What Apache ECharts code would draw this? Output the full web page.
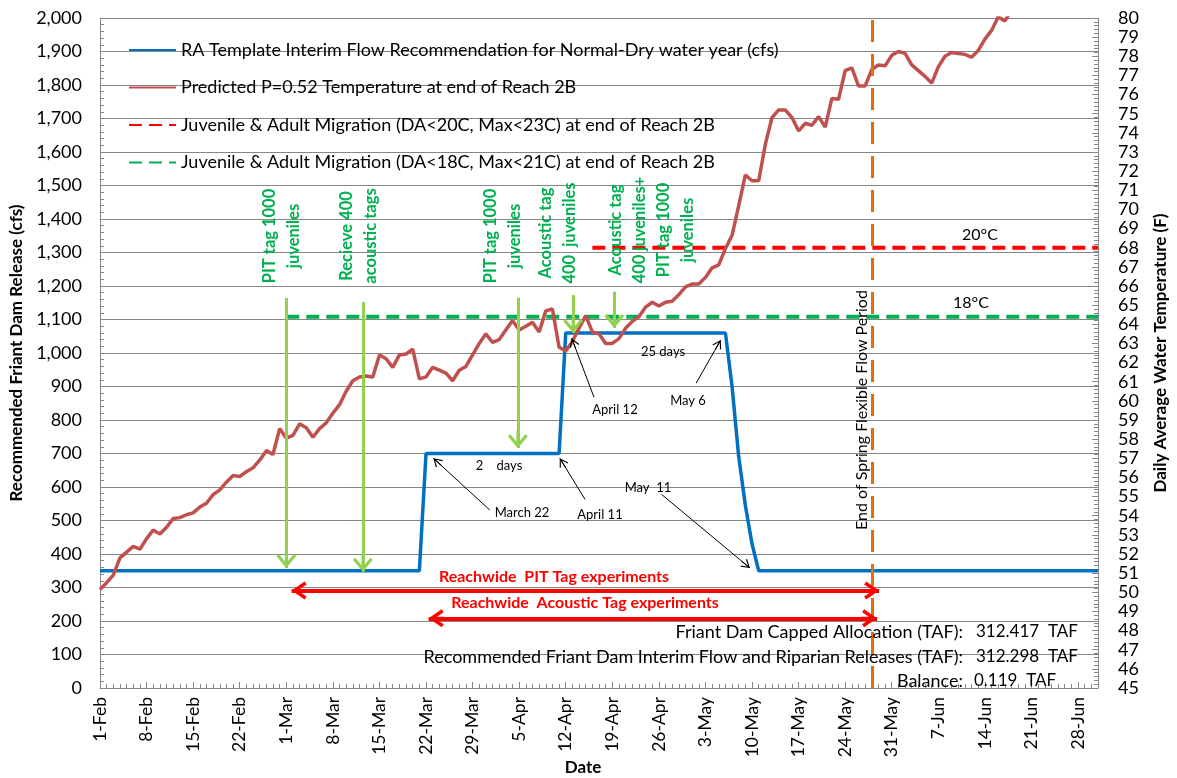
<!DOCTYPE html>
<html>
<head>
<meta charset="utf-8">
<script src="https://cdn.jsdelivr.net/npm/echarts@6/dist/echarts.min.js"></script>
<style>
  html, body { margin: 0; padding: 0; background: #fff; }
  #chart { width: 1177px; height: 778px; }
</style>
</head>
<body>
<div id="chart"></div>
<script>
// x is a day number: 0 = 1-Feb, 150 = 1-Jul
var tickLabels = ['1-Feb', '8-Feb', '15-Feb', '22-Feb', '1-Mar', '8-Mar', '15-Mar', '22-Mar', '29-Mar', '5-Apr', '12-Apr',
    '19-Apr', '26-Apr', '3-May', '10-May', '17-May', '24-May', '31-May', '7-Jun', '14-Jun', '21-Jun', '28-Jun'];

// recommended flow (cfs), break points only
var flowDays = [0, 48, 49, 69, 70, 94, 95, 96, 97, 98, 99, 150];
var flowCfs = [350, 350, 700, 700, 1060, 1060, 900, 690, 545, 430, 350, 350];

// predicted daily temperature (F), one value per day from 1-Feb
var tempF = [
    50.15, 50.5, 50.9, 51.8, 52.1, 52.4, 52.25, 52.8, 53.25, 53.05,
    53.4, 53.85, 53.9, 54.05, 54.15, 54.45, 54.65, 55.1, 55.35, 55.75,
    56.1, 56.05, 56.3, 56.5, 56.9, 57.4, 57.2, 58.55, 58.05, 58.2,
    58.8, 58.6, 58.1, 58.55, 58.85, 59.35, 59.8, 60.5, 61.05, 61.25,
    61.3, 61.25, 62.4, 62.2, 61.75, 62.4, 62.45, 62.7, 61.15, 61.25,
    61.75, 61.6, 61.45, 61.05, 61.6, 61.8, 62.4, 63.0, 63.5, 63.05,
    63.2, 63.7, 64.2, 63.7, 63.9, 64.1, 63.6, 64.7, 64.8, 62.8,
    62.6, 63.1, 63.8, 64.45, 63.6, 63.5, 63.0, 63.0, 63.25, 63.8,
    64.15, 64.4, 64.9, 65.15, 64.95, 65.15, 65.2, 65.55, 65.95, 66.1,
    66.1, 66.45, 66.95, 67.1, 67.95, 68.65, 70.2, 71.8, 71.5, 71.5,
    73.4, 74.8, 75.2, 75.2, 74.8, 74.1, 74.5, 74.4, 74.85, 74.3,
    75.8, 75.75, 77.25, 77.4, 76.45, 76.45, 77.3, 77.55, 77.5, 78.05,
    78.25, 78.15, 77.55, 77.25, 76.95, 76.6, 77.45, 78.0, 78.2, 78.15,
    78.1, 77.95, 78.3, 78.9, 79.35, 80.05, 79.85, 80.4
];

// migration thresholds (F)
var redLimitDays = [74, 150];
var redLimitF = 68;
var greenLimitDays = [28, 150];
var greenLimitF = 64.4;
var endOfFlexDay = 116;

// green tagging arrows (day, top cfs, tip cfs)
var tagArrowDays = [28, 39.5, 62.8, 71.1, 77.3];
var tagArrowTop = [1164, 1152, 1165, 1173, 1183];
var tagArrowTip = [358, 347, 716, 1060, 1075];

// black note arrows (tail day, tail cfs, tip day, tip cfs)
var noteFromDays = [58.6, 72.9, 74.25, 89.6, 84.4];
var noteFromCfs = [531, 563, 868, 910, 578];
var noteToDays = [50.1, 69.1, 70.9, 93.3, 97.7];
var noteToCfs = [686, 686, 1044, 1039, 358];

// reachwide experiment spans
var expStartDays = [28.8, 49.4];
var expEndDays = [117.1, 116.8];
var expCfs = [291, 208];

var FONT = 'Lato';
var chart = echarts.init(document.getElementById('chart'));

var greenHead = 'path://M10,0 L20,12 L17.5,14 L10,5 L2.5,14 L0,12 Z M8.6,3 L11.4,3 L11.4,18 L8.6,18 Z';
var blackHead = 'path://M5,0 L10,8 L9,8.7 L5,2 L1,8.7 L0,8 Z M4.5,1 L5.5,1 L5.5,11 L4.5,11 Z';
var redHead = 'path://M9,0 L18,13 L15,15 L9,6 L3,15 L0,13 Z M7.5,3 L10.5,3 L10.5,16 L7.5,16 Z';

function txt(text, x, y, opt) {
    opt = opt || {};
    return {
        type: 'text', x: x, y: y, rotation: opt.rotation || 0, z: 100,
        style: {
            text: text, fill: opt.color || '#000', align: opt.align || 'center', verticalAlign: 'middle',
            font: (opt.bold ? 'bold ' : '') + (opt.size || 16) + 'px ' + FONT,
            lineHeight: opt.lineHeight
        }
    };
}
var V = Math.PI / 2;
var greenTxt = {color: '#00B050', bold: true, size: 16.5, rotation: V, lineHeight: 24};

var names = [
    'RA Template Interim Flow Recommendation for Normal-Dry water year (cfs)',
    'Predicted P=0.52 Temperature at end of Reach 2B',
    'Juvenile & Adult Migration (DA<20C, Max<23C) at end of Reach 2B',
    'Juvenile & Adult Migration (DA<18C, Max<21C) at end of Reach 2B'
];

chart.setOption({
    animation: false,
    textStyle: {fontFamily: FONT},
    grid: {left: 100, right: 79, top: 18, bottom: 90, outerBoundsMode: 'none'},
    legend: {
        data: names, orient: 'vertical', left: 128, top: 41, itemWidth: 47, itemHeight: 14, itemGap: 19.5,
        padding: 0, itemStyle: {opacity: 0}, z: 5,
        textStyle: {fontSize: 18, color: '#000', fontFamily: FONT}
    },
    xAxis: {
        type: 'value', min: 0, max: 150, interval: 7,
        axisLine: {lineStyle: {color: '#868686'}},
        axisTick: {inside: true, length: 6, lineStyle: {color: '#868686'}},
        minorTick: {show: true, splitNumber: 7, length: 4, lineStyle: {color: '#868686'}},
        splitLine: {show: false},
        axisLabel: {
            rotate: 90, margin: 9, fontSize: 17.5, color: '#000',
            formatter: function (v) { return v % 7 === 0 && v / 7 < tickLabels.length ? tickLabels[v / 7] : ''; }
        }
    },
    yAxis: [{
        type: 'value', min: 0, max: 2000, interval: 100, position: 'left',
        name: 'Recommended Friant Dam Release (cfs)', nameLocation: 'middle', nameGap: 72,
        nameTextStyle: {fontSize: 17, fontWeight: 'bold', color: '#000'},
        axisLine: {show: true, lineStyle: {color: '#868686'}},
        axisTick: {show: true, inside: true, length: 6, lineStyle: {color: '#868686'}},
        minorTick: {show: true, splitNumber: 5, length: 4, lineStyle: {color: '#868686'}},
        splitLine: {lineStyle: {color: '#868686', width: 1}},
        axisLabel: {fontSize: 18, color: '#000', margin: 18, formatter: function (v) { return v.toLocaleString('en-US'); }}
    }, {
        type: 'value', min: 45, max: 80, interval: 1, position: 'right',
        name: 'Daily Average Water Temperature (F)', nameLocation: 'middle', nameGap: 54,
        nameTextStyle: {fontSize: 17, fontWeight: 'bold', color: '#000'},
        axisLine: {show: true, lineStyle: {color: '#868686'}},
        axisTick: {show: true, inside: true, length: 6, lineStyle: {color: '#868686'}},
        minorTick: {show: true, splitNumber: 5, length: 4, lineStyle: {color: '#868686'}},
        splitLine: {show: false},
        axisLabel: {fontSize: 18, color: '#000', margin: 20}
    }],
    series: [{
        name: names[2], type: 'line', yAxisIndex: 1, symbol: 'none', z: 3,
        lineStyle: {color: '#FF0000', width: 4, type: [13, 7]}, itemStyle: {color: '#FF0000'},
        data: redLimitDays.map(function (d) { return [d, redLimitF]; })
    }, {
        name: names[3], type: 'line', yAxisIndex: 1, symbol: 'none', z: 3,
        lineStyle: {color: '#00B050', width: 4, type: [13, 7]}, itemStyle: {color: '#00B050'},
        data: greenLimitDays.map(function (d) { return [d, greenLimitF]; })
    }, {
        name: names[0], type: 'line', yAxisIndex: 0, symbol: 'none', z: 4,
        lineStyle: {color: '#0070C0', width: 3.5}, itemStyle: {color: '#0070C0'},
        data: flowDays.map(function (d, i) { return [d, flowCfs[i]]; })
    }, {
        name: names[1], type: 'line', yAxisIndex: 1, symbol: 'none', z: 4,
        lineStyle: {color: '#C0504D', width: 3.5}, itemStyle: {color: '#C0504D'},
        data: tempF.map(function (v, i) { return [i, v]; })
    }, {
        name: 'flex', type: 'line', yAxisIndex: 0, data: [],
        markLine: {
            silent: true, animation: false, symbol: 'none', label: {show: false},
            lineStyle: {color: '#E46C0A', width: 3, type: [22, 12]},
            data: [{xAxis: endOfFlexDay}]
        }
    }, {
        name: 'tags', type: 'line', yAxisIndex: 0, data: [], z: 6,
        markLine: {
            silent: true, animation: false, symbol: ['none', greenHead], symbolSize: [20, 18],
            symbolOffset: [0, [0, 9]], label: {show: false},
            lineStyle: {color: '#92D050', width: 3, type: 'solid'},
            data: tagArrowDays.map(function (d, i) { return [{coord: [d, tagArrowTop[i]]}, {coord: [d, tagArrowTip[i]]}]; })
        }
    }, {
        name: 'notes', type: 'line', yAxisIndex: 0, data: [], z: 6,
        markLine: {
            silent: true, animation: false, symbol: ['none', blackHead], symbolSize: [10, 11],
            symbolOffset: [0, [0, 5.5]], label: {show: false},
            lineStyle: {color: '#000', width: 1, type: 'solid'},
            data: noteFromDays.map(function (d, i) {
                return [{coord: [d, noteFromCfs[i]]}, {coord: [noteToDays[i], noteToCfs[i]]}];
            })
        }
    }, {
        name: 'spans', type: 'line', yAxisIndex: 0, data: [], z: 6,
        markLine: {
            silent: true, animation: false, symbol: [redHead, redHead], symbolSize: [18, 16],
            symbolOffset: [[0, 8], [0, 8]], label: {show: false},
            lineStyle: {color: '#FF0000', width: 4, type: 'solid'},
            data: expStartDays.map(function (d, i) { return [{coord: [d, expCfs[i]]}, {coord: [expEndDays[i], expCfs[i]]}]; })
        }
    }],
    graphic: {
        elements: [
            txt('PIT tag 1000\njuveniles', 282, 236, greenTxt),
            txt('Recieve 400\nacoustic tags', 359, 236, greenTxt),
            txt('PIT tag 1000\njuveniles', 503, 236, greenTxt),
            txt('Acoustic tag\n400  juveniles', 558, 233, greenTxt),
            txt('Acoustic tag\n400 juveniles+\nPIT tag 1000\njuveniles', 652, 230, greenTxt),
            txt('March 22', 522, 513, {size: 13}),
            txt('April 11', 600, 515, {size: 13}),
            txt('April 12', 615, 410, {size: 13}),
            txt('May 6', 688, 401, {size: 13}),
            txt('May  11', 648, 488, {size: 13}),
            txt('2    days', 499, 466, {size: 13}),
            txt('25 days', 663, 352, {size: 13}),
            txt('Reachwide  PIT Tag experiments', 554, 577, {color: '#FF0000', bold: true, size: 16}),
            txt('Reachwide  Acoustic Tag experiments', 585, 603, {color: '#FF0000', bold: true, size: 16}),
            txt('End of Spring Flexible Flow Period', 862, 410, {rotation: V, size: 16}),
            txt('20°C', 980, 235, {size: 16}),
            txt('18°C', 971, 303, {size: 16}),
            txt('Friant Dam Capped Allocation (TAF):', 963, 632, {align: 'right', size: 18}),
            txt('Recommended Friant Dam Interim Flow and Riparian Releases (TAF):', 963, 657, {align: 'right', size: 18}),
            txt('Balance:', 963, 681, {align: 'right', size: 18}),
            txt('312.417  TAF', 976, 632, {align: 'left', size: 17}),
            txt('312.298  TAF', 976, 657, {align: 'left', size: 17}),
            txt('0.119  TAF', 974, 681, {align: 'left', size: 17}),
            txt('Date', 583, 768, {bold: true, size: 17})
        ]
    }
});
</script>
</body>
</html>
